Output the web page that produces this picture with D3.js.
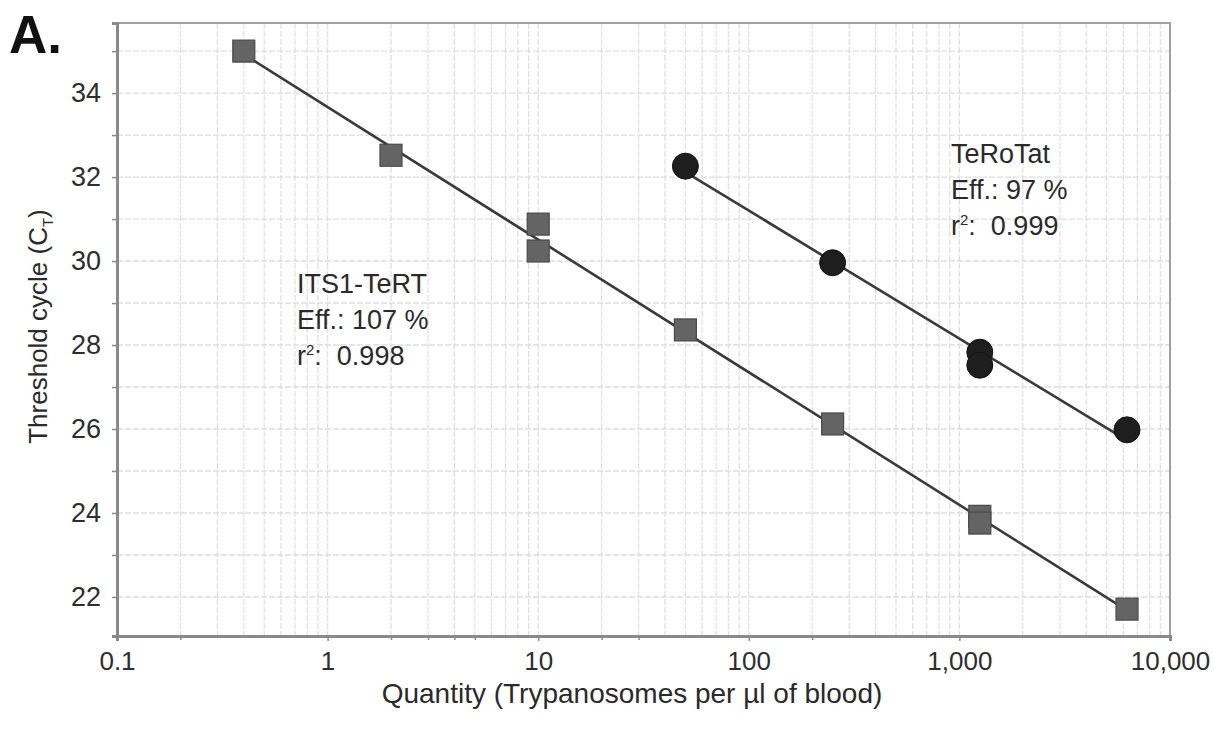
<!DOCTYPE html>
<html>
<head>
<meta charset="utf-8">
<script src="https://cdn.jsdelivr.net/npm/d3@7"></script>
<style>
  body { margin: 0; background: #fff; }
  svg { display: block; font-family: "Liberation Sans", Arial, sans-serif; }
</style>
</head>
<body>
<svg id="chart" width="1214" height="732"></svg>
<script>
// ---- Data ----
const its1X = [0.4, 2, 10, 10, 50, 250, 1250, 1250, 6250];
const its1Y = [35.0, 32.52, 30.88, 30.24, 28.36, 26.12, 23.92, 23.76, 21.71];
const teroX = [50, 250, 1250, 1250, 6250];
const teroY = [32.26, 29.96, 27.83, 27.52, 25.98];
const xTickValues = [0.1, 1, 10, 100, 1000, 10000];
const xTickLabels = ["0.1", "1", "10", "100", "1,000", "10,000"];
const xSmallTicks = [0.2, 2, 3, 4, 5, 20, 30, 200];
const yLabelValues = [22, 24, 26, 28, 30, 32, 34];
const yTickValues = [22, 23, 24, 25, 26, 27, 28, 29, 30, 31, 32, 33, 34, 35];
const its1Text = ["ITS1-TeRT", "Eff.: 107 %", "0.998"];
const teroText = ["TeRoTat", "Eff.:  97 %", "0.999"];

// ---- Layout ----
const svg = d3.select("#chart");
const L = 117, R = 1170, T = 23, B = 636;
const x = d3.scaleLog().domain([0.1, 10000]).range([L, R]);
const y = d3.scaleLinear().domain([21.07, 35.67]).range([B, T]);

// grid
const grid = svg.append("g");
const minor = [];
for (let e = -1; e < 4; e++) for (let m = 1; m <= 9; m++) minor.push(m * Math.pow(10, e));
grid.selectAll("line.vx").data(minor.filter(v => v > 0.1)).enter().append("line")
  .attr("x1", d => x(d)).attr("x2", d => x(d)).attr("y1", T).attr("y2", B)
  .attr("stroke", "#dedede").attr("stroke-width", 1.2).attr("stroke-dasharray", "6,2");
grid.selectAll("line.hy").data(yTickValues).enter().append("line")
  .attr("x1", L).attr("x2", R).attr("y1", d => y(d)).attr("y2", d => y(d))
  .attr("stroke", "#dedede").attr("stroke-width", 1.4).attr("stroke-dasharray", "6,2");

// frame
svg.append("rect").attr("x", L).attr("y", T).attr("width", R - L).attr("height", B - T)
  .attr("fill", "none").attr("stroke", "#a0a0a0").attr("stroke-width", 2);

// axes
const xAxis = d3.axisBottom(x).tickValues(xTickValues)
  .tickFormat((d, i) => xTickLabels[i]).tickSize(5).tickPadding(11);
const gx = svg.append("g").attr("transform", `translate(0,${B})`).call(xAxis);
gx.select(".domain").attr("stroke", "#8a8a8a").attr("stroke-width", 3);
gx.selectAll(".tick line").attr("stroke", "#8a8a8a").attr("stroke-width", 1.5);
gx.selectAll("text").attr("font-size", 26).attr("fill", "#2e2e2e");
const gx2 = svg.append("g").attr("transform", `translate(0,${B})`)
  .call(d3.axisBottom(x).tickValues(xSmallTicks).tickFormat("").tickSize(4));
gx2.select(".domain").remove();
gx2.selectAll(".tick line").attr("stroke", "#8a8a8a").attr("stroke-width", 1.5);

const yAxis = d3.axisLeft(y).tickValues(yTickValues)
  .tickFormat(d => yLabelValues.includes(d) ? d : "").tickSize(5).tickPadding(11);
const gy = svg.append("g").attr("transform", `translate(${L},0)`).call(yAxis);
gy.select(".domain").attr("stroke", "#8a8a8a").attr("stroke-width", 3);
gy.selectAll(".tick line").attr("stroke", "#8a8a8a").attr("stroke-width", 1.5);
gy.selectAll("text").attr("font-size", 27).attr("fill", "#2e2e2e");

// regression lines
function fit(xs, ys) {
  const lx = xs.map(Math.log10);
  const mx = d3.mean(lx), my = d3.mean(ys);
  const b = d3.sum(lx.map((v, i) => (v - mx) * (ys[i] - my))) / d3.sum(lx.map(v => (v - mx) ** 2));
  const a = my - b * mx;
  const x0 = d3.min(xs), x1 = d3.max(xs);
  return [[x0, a + b * Math.log10(x0)], [x1, a + b * Math.log10(x1)]];
}
const line = d3.line().x(d => x(d[0])).y(d => y(d[1]));
svg.append("path").attr("d", line(fit(its1X, its1Y)))
  .attr("stroke", "#3a3a3a").attr("stroke-width", 2.6).attr("fill", "none");
svg.append("path").attr("d", line(fit(teroX, teroY)))
  .attr("stroke", "#3a3a3a").attr("stroke-width", 2.6).attr("fill", "none");

// markers
const sq = 22;
svg.selectAll("rect.its").data(its1X.map((v, i) => [v, its1Y[i]])).enter().append("rect")
  .attr("x", d => x(d[0]) - sq / 2).attr("y", d => y(d[1]) - sq / 2)
  .attr("width", sq).attr("height", sq)
  .attr("fill", "#646464").attr("stroke", "#4a4a4a").attr("stroke-width", 1.2);
svg.selectAll("circle.tero").data(teroX.map((v, i) => [v, teroY[i]])).enter().append("circle")
  .attr("cx", d => x(d[0])).attr("cy", d => y(d[1])).attr("r", 13)
  .attr("fill", "#1e1e1e").attr("stroke", "#111").attr("stroke-width", 1);

// annotations
function annot(lines, ax, ay) {
  const g = svg.append("g").attr("font-size", 27).attr("fill", "#2a2a2a")
    .style("white-space", "pre");
  g.append("text").attr("x", ax).attr("y", ay).text(lines[0]);
  g.append("text").attr("x", ax).attr("y", ay + 36).text(lines[1]);
  const t = g.append("text").attr("x", ax).attr("y", ay + 72);
  t.append("tspan").text("r");
  t.append("tspan").attr("font-size", 15).attr("dy", -10).text("2");
  t.append("tspan").attr("dy", 10).text(":\u00a0\u00a0" + lines[2]);
}
annot(its1Text, 297, 293);
annot(teroText, 951, 163);

// axis titles
svg.append("text").attr("x", 632).attr("y", 703).attr("text-anchor", "middle")
  .attr("font-size", 28).attr("fill", "#2a2a2a")
  .text("Quantity (Trypanosomes per \u00b5l of blood)");
const yl = svg.append("text").attr("transform", `translate(47,${(T + B) / 2 - 3}) rotate(-90)`)
  .attr("text-anchor", "middle").attr("font-size", 26).attr("fill", "#2a2a2a");
yl.append("tspan").text("Threshold cycle (C");
yl.append("tspan").attr("font-size", 15).attr("dy", 6).text("T");
yl.append("tspan").attr("dy", -6).text(")");

// panel label
svg.append("text").attr("x", 9).attr("y", 53).attr("font-size", 53).attr("font-weight", "bold")
  .attr("fill", "#111").text("A.");
</script>
</body>
</html>
